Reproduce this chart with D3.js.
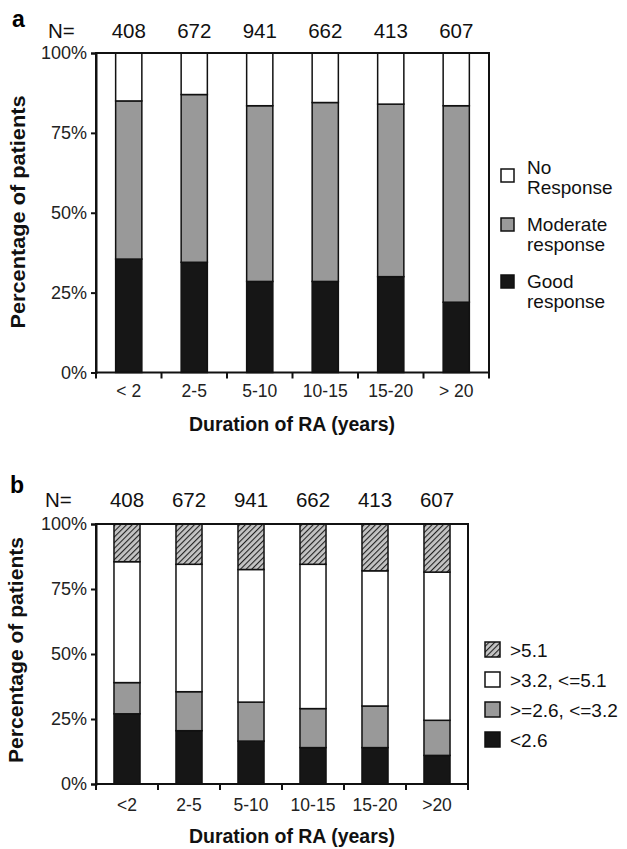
<!DOCTYPE html>
<html>
<head>
<meta charset="utf-8">
<script src="https://cdn.jsdelivr.net/npm/d3@7"></script>
<style>
  html, body { margin: 0; padding: 0; background: #fff; }
  svg { display: block; font-family: "Liberation Sans", Arial, Helvetica, sans-serif; }
</style>
</head>
<body>
<svg id="chart" width="627" height="849"></svg>
<script>
// Categories and patient counts
const durationA = ["< 2", "2-5", "5-10", "10-15", "15-20", "> 20"];
const durationB = ["<2", "2-5", "5-10", "10-15", "15-20", ">20"];
const nPatients = [408, 672, 941, 662, 413, 607];
const yTicks = [0, 25, 50, 75, 100];

// Panel a: EULAR response (%)
const goodResponse = [35.5, 34.5, 28.5, 28.5, 30, 22];
const moderateResponse = [49.5, 52.5, 55, 56, 54, 61.5];
const noResponse = [15, 13, 16.5, 15.5, 16, 16.5];

// Panel b: DAS28 categories (%)
const dasLow = [27, 20.5, 16.5, 14, 14, 11];        // <2.6
const dasMid = [12, 15, 15, 15, 16, 13.5];          // >=2.6, <=3.2
const dasModerate = [46.5, 49, 51, 55.5, 52, 57];   // >3.2, <=5.1
const dasHigh = [14.5, 15.5, 17.5, 15.5, 18, 18.5]; // >5.1

const svg = d3.select('#chart');

const defs = svg.append('defs');
const hatch = defs.append('pattern')
  .attr('id', 'hatch')
  .attr('patternUnits', 'userSpaceOnUse')
  .attr('width', 4).attr('height', 4)
  .attr('patternTransform', 'rotate(45)');
hatch.append('rect').attr('width', 4).attr('height', 4).attr('fill', '#c4c4c4');
hatch.append('line')
  .attr('x1', 0).attr('y1', 0).attr('x2', 0).attr('y2', 4)
  .attr('stroke', '#222').attr('stroke-width', 2.2);

function drawPanel(p) {
  const rows = p.categories.map((c, i) => {
    const r = { cat: c };
    p.series.forEach(s => { r[s.key] = s.values[i]; });
    return r;
  });
  const stacked = d3.stack().keys(p.series.map(s => s.key))(rows);

  const x = d3.scaleBand()
    .domain(p.categories)
    .range([p.left, p.right])
    .paddingInner(p.pad)
    .paddingOuter(p.pad / 2);
  const y = d3.scaleLinear().domain([0, 100]).range([p.bottom, p.top]);

  const g = svg.append('g');

  // bars
  stacked.forEach((layer, li) => {
    g.append('g').selectAll('rect')
      .data(layer)
      .join('rect')
      .attr('x', d => x(d.data.cat))
      .attr('width', x.bandwidth())
      .attr('y', d => y(d[1]))
      .attr('height', d => y(d[0]) - y(d[1]))
      .attr('fill', p.series[li].fill)
      .attr('stroke', '#111')
      .attr('stroke-width', 1.5);
  });

  // frame
  g.append('rect')
    .attr('x', p.left).attr('y', p.top)
    .attr('width', p.right - p.left).attr('height', p.bottom - p.top)
    .attr('fill', 'none').attr('stroke', '#111').attr('stroke-width', 2);

  // y axis
  const yAxis = g.append('g')
    .attr('transform', `translate(${p.left},0)`)
    .call(d3.axisLeft(y).tickValues(yTicks).tickFormat(d => d + '%').tickSize(5).tickPadding(4));
  yAxis.select('.domain').attr('stroke', '#111').attr('stroke-width', 2);
  yAxis.selectAll('.tick line').attr('stroke', '#111').attr('stroke-width', 2);
  yAxis.selectAll('.tick text')
    .attr('font-size', 18).attr('fill', '#222').attr('font-family', null);

  // x ticks at slot boundaries
  const step = x.step();
  const bounds = d3.range(p.categories.length + 1).map(i => p.left + i * step);
  g.append('g').selectAll('line')
    .data(bounds)
    .join('line')
    .attr('x1', d => d).attr('x2', d => d)
    .attr('y1', p.bottom).attr('y2', p.bottom + 6)
    .attr('stroke', '#111').attr('stroke-width', 2);

  // x labels
  g.append('g').selectAll('text')
    .data(p.categories)
    .join('text')
    .attr('x', d => x(d) + x.bandwidth() / 2)
    .attr('y', p.bottom + p.xLabelDy)
    .attr('text-anchor', 'middle')
    .attr('font-size', 17.5)
    .attr('fill', '#222')
    .text(d => d);

  // N counts
  g.append('text')
    .attr('x', p.nx).attr('y', p.nBase)
    .attr('font-size', 20.5).attr('fill', '#111')
    .text('N=');
  g.append('g').selectAll('text')
    .data(nPatients)
    .join('text')
    .attr('x', (d, i) => x(p.categories[i]) + x.bandwidth() / 2)
    .attr('y', p.nBase)
    .attr('text-anchor', 'middle')
    .attr('font-size', 20.5)
    .attr('fill', '#111')
    .text(d => d);

  // panel letter
  g.append('text')
    .attr('x', p.letterX).attr('y', p.letterY)
    .attr('font-size', 23).attr('font-weight', 'bold')
    .text(p.letter);

  // axis titles
  g.append('text')
    .attr('transform', `translate(${p.yTitleX},${p.yTitleY}) rotate(-90)`)
    .attr('text-anchor', 'middle')
    .attr('font-size', 19.5).attr('font-weight', 'bold').attr('fill', '#111')
    .attr('textLength', p.yTitleLen).attr('lengthAdjust', 'spacingAndGlyphs')
    .text('Percentage of patients');
  g.append('text')
    .attr('x', 292).attr('y', p.xTitleBase)
    .attr('text-anchor', 'middle')
    .attr('font-size', 19.5).attr('font-weight', 'bold').attr('fill', '#111')
    .text('Duration of RA (years)');

  // legend
  const leg = g.append('g');
  p.legend.forEach(item => {
    const li = leg.append('g').attr('transform', `translate(${p.legX},${item.y})`);
    li.append('rect')
      .attr('x', 0).attr('y', -p.legSize)
      .attr('width', p.legSize).attr('height', p.legSize)
      .attr('fill', item.fill).attr('stroke', '#111').attr('stroke-width', 1.5);
    li.append('text')
      .attr('x', p.legTextDx).attr('y', item.textDy)
      .attr('font-size', 19).attr('fill', '#111')
      .selectAll('tspan')
      .data(item.lines)
      .join('tspan')
      .attr('x', p.legTextDx)
      .attr('dy', (d, i) => i === 0 ? 0 : 20)
      .text(d => d);
  });
}

drawPanel({
  letter: 'a', letterX: 12, letterY: 27,
  categories: durationA,
  series: [
    { key: 'good', values: goodResponse, fill: '#161616' },
    { key: 'moderate', values: moderateResponse, fill: '#999999' },
    { key: 'none', values: noResponse, fill: '#ffffff' }
  ],
  left: 96, right: 489, top: 53, bottom: 372.5, pad: 0.6,
  xLabelDy: 24, nBase: 38, nx: 48,
  yTitleX: 25, yTitleY: 212, yTitleLen: 233,
  xTitleBase: 431,
  legX: 501, legSize: 13, legTextDx: 26,
  legend: [
    { y: 182, textDy: -8, lines: ['No', 'Response'], fill: '#ffffff' },
    { y: 231, textDy: 0, lines: ['Moderate', 'response'], fill: '#999999' },
    { y: 288, textDy: 0, lines: ['Good', 'response'], fill: '#161616' }
  ]
});

drawPanel({
  letter: 'b', letterX: 10, letterY: 493,
  categories: durationB,
  series: [
    { key: 'low', values: dasLow, fill: '#161616' },
    { key: 'mid', values: dasMid, fill: '#999999' },
    { key: 'moderate', values: dasModerate, fill: '#ffffff' },
    { key: 'high', values: dasHigh, fill: 'url(#hatch)' }
  ],
  left: 96, right: 468, top: 524, bottom: 784, pad: 0.58,
  xLabelDy: 27, nBase: 507, nx: 45,
  yTitleX: 23, yTitleY: 650, yTitleLen: 226,
  xTitleBase: 843,
  legX: 485, legSize: 15, legTextDx: 25,
  legend: [
    { y: 657, textDy: 0, lines: ['>5.1'], fill: 'url(#hatch)' },
    { y: 687, textDy: 0, lines: ['>3.2, <=5.1'], fill: '#ffffff' },
    { y: 717, textDy: 0, lines: ['>=2.6, <=3.2'], fill: '#999999' },
    { y: 747, textDy: 0, lines: ['<2.6'], fill: '#161616' }
  ]
});
</script>
</body>
</html>
